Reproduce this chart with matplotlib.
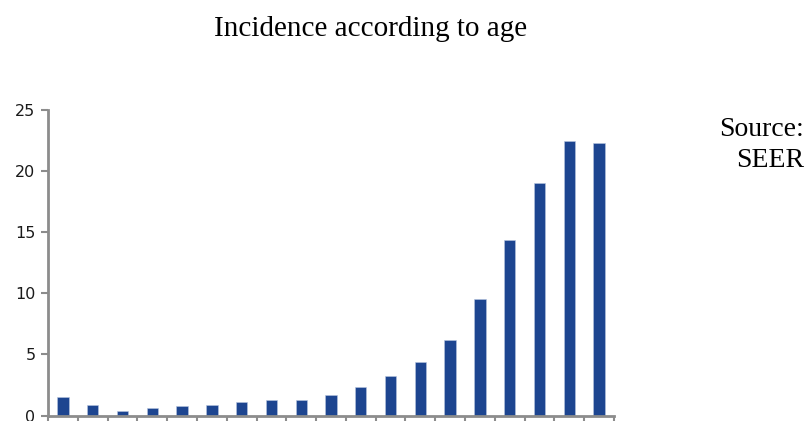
import matplotlib.pyplot as plt

# incidence per 100,000 by age group (19 groups)
age_groups = ['0-4', '5-9', '10-14', '15-19', '20-24', '25-29', '30-34', '35-39',
              '40-44', '45-49', '50-54', '55-59', '60-64', '65-69', '70-74',
              '75-79', '80-84', '85-89', '90+']
incidence = [1.55, 0.9, 0.4, 0.65, 0.75, 0.9, 1.1, 1.3, 1.3, 1.65,
             2.3, 3.2, 4.35, 6.2, 9.5, 14.4, 19.0, 22.5, 22.3]

fig = plt.figure(figsize=(8.11, 4.21), dpi=100)
ax = fig.add_axes([48 / 811, 1 - 415.5 / 421, 566 / 811, 305.5 / 421])

x = range(len(incidence))
ax.bar(x, incidence, width=0.38, color='#1d4590', edgecolor='#b8c6e0', linewidth=0.4)

ax.set_xlim(-0.5, len(incidence) - 0.5)
ax.set_ylim(0, 25)
ax.set_yticks([0, 5, 10, 15, 20, 25])
ax.set_xticks([i - 0.5 for i in range(len(incidence) + 1)])
ax.set_xticklabels([])

for s in ['top', 'right']:
    ax.spines[s].set_visible(False)
for s in ['left', 'bottom']:
    ax.spines[s].set_color('#8c8c8c')
    ax.spines[s].set_linewidth(2)
ax.tick_params(axis='y', colors='#8c8c8c', length=5, width=1.5, labelcolor='#1a1a1a', labelsize=11.5, pad=4)
ax.tick_params(axis='x', colors='#8c8c8c', length=8, width=1.5)

fig.text(371 / 811, 1 - 29 / 421, 'Incidence according to age', ha='center', va='center',
         family='Liberation Serif', fontsize=21)
fig.text(804 / 811, 1 - 145 / 421, 'Source:\nSEER', ha='right', va='center',
         family='Liberation Serif', fontsize=20, linespacing=1.3)

fig.savefig('out.png', dpi=100)
